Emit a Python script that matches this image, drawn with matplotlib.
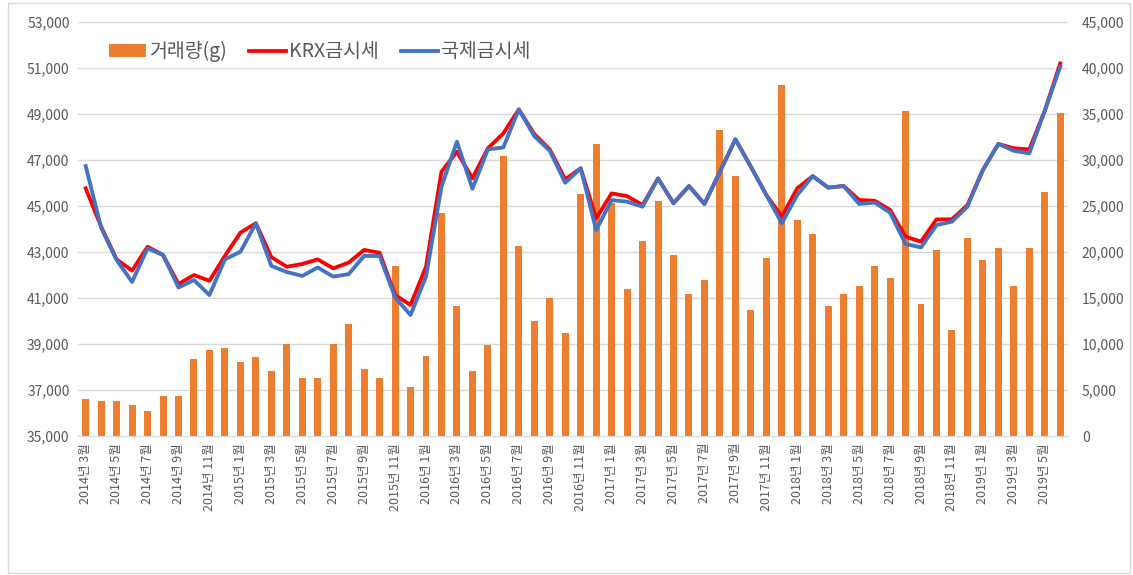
import numpy as np
import matplotlib
matplotlib.use("Agg")
import matplotlib.pyplot as plt
from matplotlib.patches import Rectangle
from matplotlib.ticker import FuncFormatter

plt.rcParams["font.family"] = ["Noto Sans CJK KR", "DejaVu Sans"]

# 2014년 3월 ~ 2019년 6월 (월별)
months = []
for y in range(2014, 2020):
    for m in range(1, 13):
        if (y == 2014 and m < 3) or (y == 2019 and m > 6):
            continue
        months.append(f"{y}년 {m}월")

# 거래량(g)
volume = [4000, 3850, 3850, 3400, 2700, 4400, 4300, 8400, 9300, 9600,
          8000, 8550, 7100, 10000, 6300, 6300, 10000, 12200, 7300, 6300,
          18500, 5300, 8700, 24200, 14100, 7100, 9900, 30400, 20700, 12500,
          15000, 11200, 26300, 31700, 25300, 16000, 21200, 25600, 19700, 15400,
          17000, 33300, 28300, 13700, 19400, 38200, 23500, 22000, 14100, 15400,
          16300, 18500, 17200, 35300, 14400, 20200, 11500, 21500, 19100, 20400,
          16300, 20400, 26500, 35100]

# KRX금시세
krx = [45770, 44100, 42680, 42190, 43230, 42870, 41610, 42000, 41750, 42830,
       43840, 44250, 42780, 42360, 42480, 42680, 42290, 42540, 43090, 42970,
       41130, 40700, 42360, 46490, 47360, 46200, 47510, 48160, 49200, 48130,
       47460, 46160, 46640, 44460, 45550, 45430, 45040, 46200, 45120, 45870,
       45090, 46490, 47900, 46710, 45480, 44540, 45770, 46300, 45800, 45870,
       45260, 45230, 44830, 43670, 43450, 44420, 44420, 45040, 46570, 47700,
       47510, 47460, 49140, 51200]

# 국제금시세
intl = [46740, 44050, 42650, 41700, 43160, 42870, 41460, 41780, 41130, 42680,
        43010, 44250, 42400, 42130, 41960, 42330, 41930, 42040, 42830, 42830,
        41030, 40260, 41930, 45840, 47800, 45750, 47460, 47550, 49200, 48040,
        47400, 46010, 46640, 43960, 45260, 45190, 44970, 46200, 45120, 45870,
        45090, 46490, 47900, 46710, 45480, 44250, 45480, 46300, 45800, 45870,
        45090, 45150, 44710, 43350, 43200, 44170, 44320, 44970, 46570, 47700,
        47400, 47290, 49140, 51060]

x = np.arange(len(months))
txt = "#595959"
fmt = FuncFormatter(lambda v, p: f"{int(v):,}")

fig = plt.figure(figsize=(11.33, 5.75), dpi=100)
fig.patches.append(Rectangle((0.007, 0.004), 0.99, 0.99, transform=fig.transFigure,
                             fill=False, edgecolor="#D9D9D9", lw=1))

ax = fig.add_axes([0.0688, 0.2417, 0.8738, 0.72])
ax2 = ax.twinx()
ax.set_zorder(ax2.get_zorder() + 1)
ax.patch.set_visible(False)

# 거래량 막대 (보조축)
bars = ax2.bar(x, volume, width=0.45, color="#ED7D31", label="거래량(g)")
ax2.set_ylim(0, 45000)
ax2.set_yticks(np.arange(0, 45001, 5000))
ax2.yaxis.set_major_formatter(fmt)
ax2.grid(axis="y", color="#D9D9D9", lw=1)
ax2.set_axisbelow(True)

# 금시세 선
l1, = ax.plot(x, krx, color="#FF0000", lw=2.75, label="KRX금시세")
l2, = ax.plot(x, intl, color="#4472C4", lw=2.75, label="국제금시세")
ax.set_ylim(35000, 53000)
ax.set_yticks(np.arange(35000, 53001, 2000))
ax.yaxis.set_major_formatter(fmt)
ax.set_xlim(-0.5, len(months) - 0.5)
ax.set_xticks(x[::2])
ax.set_xticklabels(months[::2], rotation=90, fontsize=9, color=txt)

for a in (ax, ax2):
    for s in a.spines.values():
        s.set_visible(False)
    a.tick_params(length=0, labelsize=10, colors=txt)
ax2.spines["bottom"].set_visible(True)
ax2.spines["bottom"].set_color("#D9D9D9")
ax.tick_params(axis="x", pad=5, labelsize=9)
ax.tick_params(axis="y", pad=6)
ax2.tick_params(axis="y", pad=10)

leg = ax.legend([bars, l1, l2], ["거래량(g)", "KRX금시세", "국제금시세"],
                loc="center left", bbox_to_anchor=(0.031, 0.928), ncol=3,
                frameon=False, fontsize=14, handlelength=1.9, handletextpad=0.2,
                columnspacing=1.1, borderpad=0, borderaxespad=0)
for t in leg.get_texts():
    t.set_color(txt)

fig.savefig("out.png", dpi=100)
